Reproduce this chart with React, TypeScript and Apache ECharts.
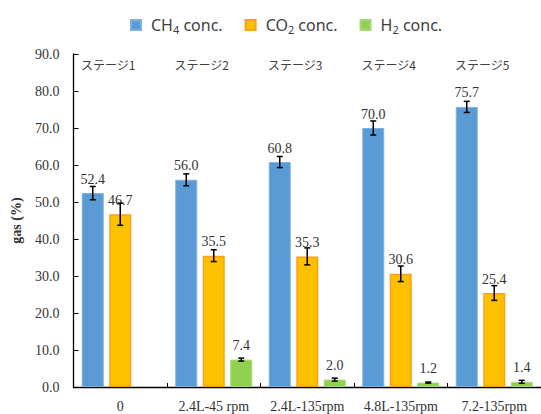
import React, { useEffect, useRef } from "react";
import * as echarts from "echarts";

const categories = ["0", "2.4L-45 rpm", "2.4L-135rpm", "4.8L-135rpm", "7.2-135rpm"];
const stages = ["ステージ1", "ステージ2", "ステージ3", "ステージ4", "ステージ5"];
const ch4 = [52.4, 56.0, 60.8, 70.0, 75.7];
const ch4Err = [1.8, 1.6, 1.5, 1.9, 1.5];
const co2 = [46.7, 35.5, 35.3, 30.6, 25.4];
const co2Err = [3.0, 1.6, 2.3, 2.1, 2.0];
const h2: (number | null)[] = [null, 7.4, 2.0, 1.2, 1.4];
const h2Err: (number | null)[] = [null, 0.4, 0.4, 0.15, 0.4];
const yTicks = { min: 0, max: 90, interval: 10 };

const seriesNames = ["CH4 conc.", "CO2 conc.", "H2 conc."];
const legendRich: Record<string, string> = {
  "CH4 conc.": "{n|CH}{s|4}{n| conc.}",
  "CO2 conc.": "{n|CO}{s|2}{n| conc.}",
  "H2 conc.": "{n|H}{s|2}{n| conc.}",
};

const BAR_W = 22;
const BAR_GAP = 0.25;
const SERIF = "'Liberation Serif', 'Times New Roman', serif";
const SANS = "'Noto Sans', 'Open Sans', sans-serif";

function errSeries(vals: (number | null)[], errs: (number | null)[], idx: number) {
  const offset = (idx - 1) * BAR_W * (1 + BAR_GAP);
  const data = vals
    .map((v, i) => (v == null || errs[i] == null ? null : [i, v, errs[i]]))
    .filter((d) => d !== null);
  return {
    type: "custom",
    z: 5,
    silent: true,
    data,
    renderItem: (params: any, api: any) => {
      const xi = api.value(0);
      const v = api.value(1);
      const e = api.value(2);
      const top = api.coord([xi, v + e]);
      const bot = api.coord([xi, v - e]);
      const x = top[0] + offset;
      const style = { stroke: "#000", lineWidth: 1.5 };
      return {
        type: "group",
        children: [
          { type: "line", shape: { x1: x, y1: top[1], x2: x, y2: bot[1] }, style },
          { type: "line", shape: { x1: x - 3, y1: top[1], x2: x + 3, y2: top[1] }, style },
          { type: "line", shape: { x1: x - 3, y1: bot[1], x2: x + 3, y2: bot[1] }, style },
        ],
      };
    },
  };
}

export default function App() {
  const ref = useRef<HTMLDivElement>(null);
  useEffect(() => {
    if (!ref.current) return;
    const chart = echarts.init(ref.current, undefined, { renderer: "svg" });
    const label = {
      show: true,
      position: "top",
      distance: 7,
      fontFamily: SERIF,
      fontSize: 14,
      color: "#333",
      formatter: (p: any) => Number(p.value).toFixed(1),
    };
    chart.setOption({
      animation: false,
      backgroundColor: "#fff",
      grid: { left: 73.5, right: -7, top: 54, bottom: 27, containLabel: false },
      legend: {
        data: seriesNames,
        top: 12,
        left: 125,
        icon: "rect",
        itemWidth: 10,
        itemHeight: 10,
        itemGap: 22,
        formatter: (name: string) => legendRich[name],
        textStyle: {
          fontFamily: SANS,
          fontSize: 16,
          color: "#404040",
          padding: [0, 0, 0, 5],
          rich: {
            n: { fontFamily: SANS, fontSize: 16, color: "#404040" },
            s: { fontFamily: SANS, fontSize: 11, color: "#404040", padding: [8, 0, 0, 0] },
          },
        },
      },
      xAxis: [
        {
          type: "category",
          data: categories,
          axisLine: { lineStyle: { color: "#000", width: 1.3 } },
          axisTick: { show: true, inside: true, length: 4, lineStyle: { color: "#000" } },
          axisLabel: { fontFamily: SERIF, fontSize: 14, color: "#333", margin: 12, interval: 0 },
        },
        {
          type: "category",
          data: stages,
          position: "top",
          axisLine: { show: false },
          axisTick: { show: false },
          axisLabel: {
            inside: true,
            margin: 4,
            interval: 0,
            fontFamily: "'Noto Sans CJK JP', sans-serif",
            fontSize: 12,
            color: "#404040",
            padding: [0, 24, 0, 0],
          },
        },
      ],
      yAxis: {
        type: "value",
        min: yTicks.min,
        max: yTicks.max,
        interval: yTicks.interval,
        name: "gas (%)",
        nameLocation: "middle",
        nameGap: 50,
        nameTextStyle: { fontFamily: SERIF, fontSize: 14, fontWeight: "bold", color: "#333" },
        axisLine: { show: true, lineStyle: { color: "#000", width: 1.3 } },
        axisTick: { show: true, inside: true, length: 5, lineStyle: { color: "#000" } },
        splitLine: { show: false },
        axisLabel: {
          fontFamily: SERIF,
          fontSize: 14,
          color: "#333",
          margin: 14,
          formatter: (v: number) => v.toFixed(1),
        },
      },
      series: [
        {
          name: seriesNames[0],
          type: "bar",
          data: ch4,
          barWidth: BAR_W,
          barGap: BAR_GAP * 100 + "%",
          itemStyle: { color: "#5B9BD5", borderColor: "#7FB0DE", borderWidth: 1 },
          label,
        },
        {
          name: seriesNames[1],
          type: "bar",
          data: co2,
          barWidth: BAR_W,
          barGap: BAR_GAP * 100 + "%",
          itemStyle: { color: "#FFC000", borderColor: "#FFA010", borderWidth: 1.5 },
          label,
        },
        {
          name: seriesNames[2],
          type: "bar",
          data: h2.map((v) => (v == null ? "-" : v)),
          barWidth: BAR_W,
          barGap: BAR_GAP * 100 + "%",
          itemStyle: { color: "#92D050", borderColor: "#A6D878", borderWidth: 1 },
          label,
        },
        errSeries(ch4, ch4Err, 0),
        errSeries(co2, co2Err, 1),
        errSeries(h2, h2Err, 2),
      ],
    });
    return () => chart.dispose();
  }, []);
  return <div ref={ref} style={{ width: 541, height: 414, position: "absolute", left: 0, top: 0 }} />;
}
